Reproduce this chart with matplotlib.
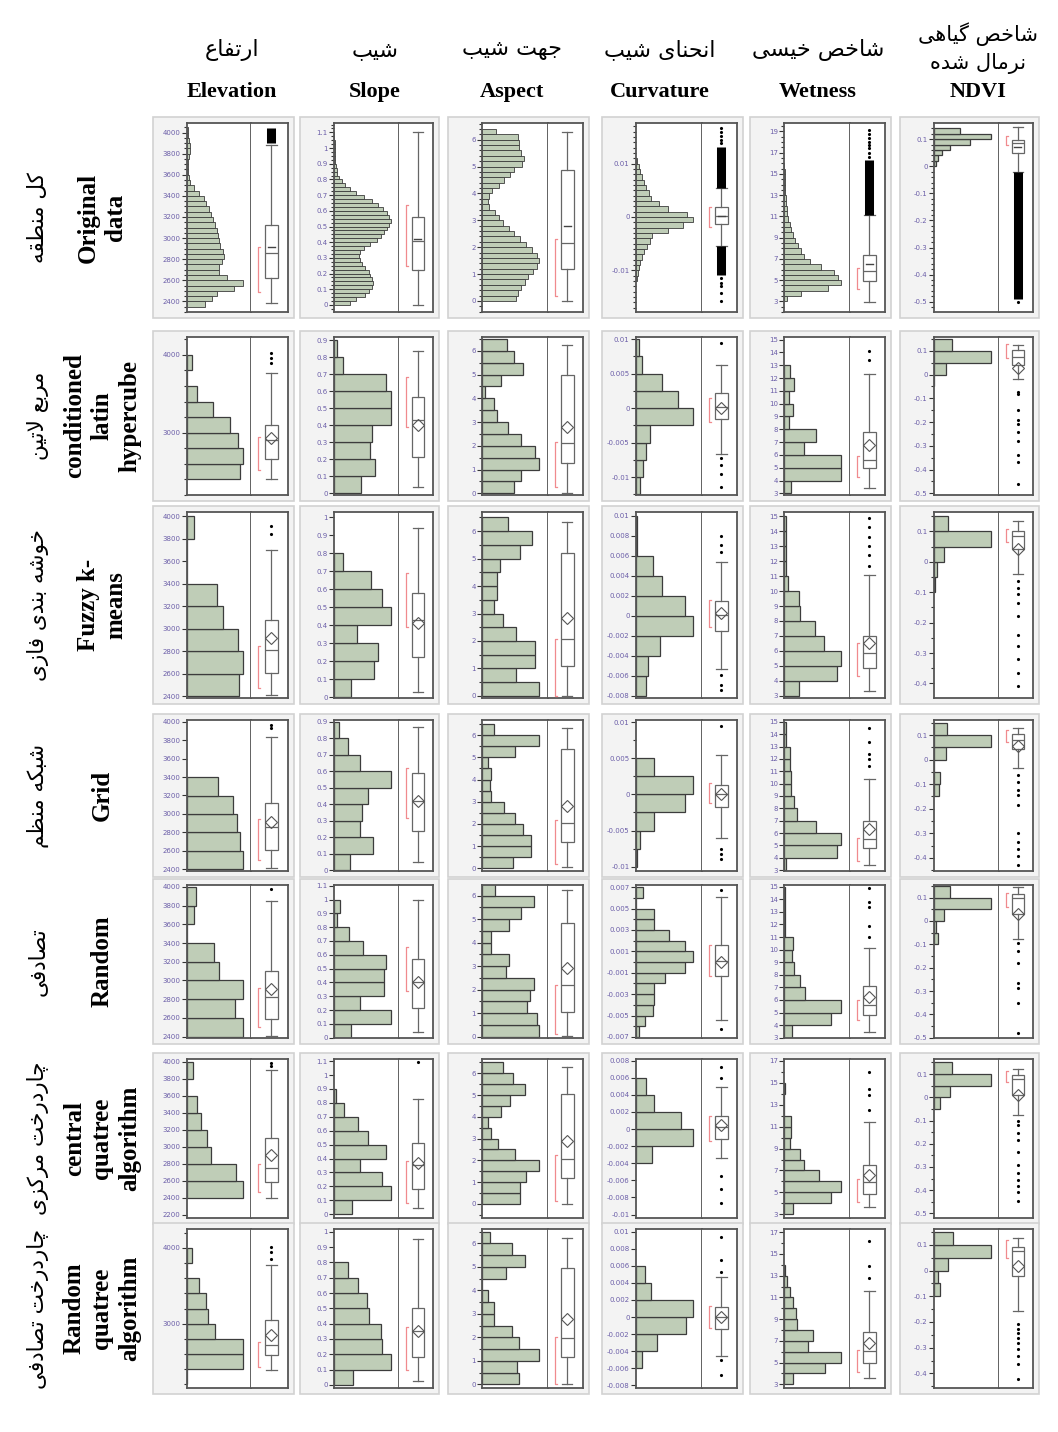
import numpy as np
import matplotlib
matplotlib.use("Agg")
import matplotlib.pyplot as plt
from matplotlib.patches import Rectangle

# Column / row titles
col_fa = ["ارتفاع", "شیب", "جهت شیب", "انحنای شیب", "شاخص خیسی", "شاخص گیاهی\nنرمال شده"]
col_en = ["Elevation", "Slope", "Aspect", "Curvature", "Wetness", "NDVI"]
row_fa = ["کل منطقه", "مربع لاتین", "خوشه بندی فازی", "شبکه منظم", "تصادفی",
          "چاردرخت مرکزی", "چاردرخت تصادفی"]
row_en = ["Original\ndata", "conditioned\nlatin\nhypercube", "Fuzzy k-\nmeans", "Grid",
          "Random", "central\nquatree\nalgorithm", "Random\nquatree\nalgorithm"]

# ---- Elevation ----
elev_lim = [(2300, 4090), (2200, 4230), (2385, 4040), (2380, 4020), (2385, 4020), (2160, 4030), (2150, 4250)]
elev_ticks = [(2400, 4000, 200), (3000, 4000, 1000), (2400, 4000, 200), (2400, 4000, 200),
              (2400, 4000, 200), (2200, 4000, 200), (3000, 4000, 1000)]
elev_bins = [(2350, 50), (2400, 200), (2400, 200), (2400, 200), (2400, 200), (2400, 200), (2200, 200)]
elev_hist = [
    [55, 75, 90, 140, 167, 120, 95, 95, 105, 110, 108, 100, 95, 92, 90, 85, 78, 72, 65, 58,
     50, 35, 22, 10, 5, 3, 2, 3, 5, 8, 8, 5, 3, 2],
    [93, 98, 90, 76, 46, 18, 0, 8],
    [97, 103, 95, 67, 55, 0, 0, 13],
    [96, 91, 86, 80, 53],
    [98, 85, 98, 56, 48, 0, 13, 16],
    [97, 85, 42, 35, 25, 17, 0, 10],
    [0, 96, 96, 48, 37, 33, 21, 0, 8],
]
# whisker low, q1, median, q3, whisker high, mean
elev_box = [(2382, 2620, 2857, 3123, 3880, 2917), (2400, 2662, 2906, 3099, 3772, 2930),
            (2410, 2609, 2815, 3083, 3705, 2920), (2409, 2613, 2856, 3114, 3840, 2910),
            (2410, 2593, 2822, 3106, 3850, 2912), (2390, 2580, 2748, 3100, 3900, 2900),
            (2385, 2582, 2714, 3044, 3770, 2846)]
elev_half = [(2490, 2917), (2520, 2950), (2475, 2850), (2500, 2950), (2505, 2915), (2465, 2800), (2427, 2757)]
elev_out = [[], [3900, 3960, 4025], [3840, 3915], [3930, 3970], [3975], [3950, 3985], [3860, 3947, 4013]]
elev_dense = [[(3900, 4045)], [], [], [], [], [], []]

# ---- Slope ----
slope_lim = [(-0.045, 1.16), (-0.01, 0.92), (-0.005, 1.03), (-0.006, 0.91), (-0.002, 1.105),
             (-0.027, 1.115), (-0.02, 1.018)]
slope_ticks = [(0, 1.1, 0.1), (0, 0.9, 0.1), (0, 1.0, 0.1), (0, 0.9, 0.1), (0, 1.1, 0.1),
               (0, 1.1, 0.1), (0, 1.0, 0.1)]
slope_bins = [(0, 0.025), (0, 0.1), (0, 0.1), (0, 0.1), (0, 0.1), (0, 0.1), (0, 0.1)]
slope_hist = [
    [25, 35, 50, 55, 60, 62, 60, 58, 55, 50, 45, 42, 40, 42, 48, 58, 68, 75, 80, 85, 88, 90,
     88, 85, 78, 70, 60, 48, 35, 25, 18, 12, 8, 5, 4, 3, 2, 2, 1, 1, 1, 1, 0.5, 0.5],
    [47, 70, 62, 65, 97, 97, 90, 15, 5],
    [30, 68, 75, 40, 97, 83, 63, 15],
    [27, 65, 43, 47, 57, 95, 43, 23, 8],
    [30, 97, 45, 85, 85, 90, 50, 25, 5, 10],
    [30, 95, 80, 44, 87, 57, 40, 17, 4],
    [32, 97, 82, 80, 60, 57, 42, 24],
]
slope_box = [(0.0, 0.22, 0.41, 0.56, 1.1, 0.42), (0.039, 0.214, 0.433, 0.566, 0.84, 0.40),
             (0.026, 0.222, 0.428, 0.578, 0.94, 0.41), (0.046, 0.235, 0.42, 0.586, 0.87, 0.42),
             (0.043, 0.212, 0.404, 0.569, 1.0, 0.40), (0.048, 0.183, 0.352, 0.51, 0.83, 0.37),
             (0.026, 0.18, 0.35, 0.5, 0.95, 0.35)]
slope_half = [(0.25, 0.64), (0.39, 0.684), (0.39, 0.69), (0.316, 0.616), (0.34, 0.66), (0.08, 0.38), (0.1, 0.38)]
slope_out = [[], [], [], [], [], [1.09], []]
slope_dense = [[], [], [], [], [], [], []]

# ---- Aspect ----
aspect_lim = [(-0.41, 6.62), (-0.07, 6.58), (-0.08, 6.7), (-0.12, 6.68), (-0.06, 6.45),
              (-0.65, 6.66), (-0.15, 6.61)]
aspect_ticks = [(0, 6, 1)] * 7
aspect_bins = [(0, 0.2)] + [(0, 0.5)] * 6
aspect_hist = [
    [100, 105, 115, 125, 135, 150, 160, 168, 160, 145, 128, 110, 95, 78, 60, 50, 38, 20, 18, 20,
     30, 50, 65, 82, 95, 118, 122, 115, 107, 107, 105, 42],
    [55, 67, 98, 90, 67, 45, 25, 20, 5, 33, 70, 55, 42],
    [98, 58, 91, 91, 58, 35, 21, 25, 25, 31, 65, 85, 45],
    [52, 83, 83, 70, 55, 37, 15, 13, 15, 10, 55, 97, 20],
    [99, 95, 77, 82, 89, 42, 47, 15, 15, 47, 67, 89, 22],
    [65, 65, 75, 97, 55, 27, 15, 10, 32, 47, 72, 53, 35],
    [63, 60, 98, 63, 51, 21, 21, 11, 0, 41, 73, 51, 13],
]
aspect_box = [(0, 1.19, 2.16, 4.88, 6.3, 2.78), (0.03, 1.26, 2.1, 5.0, 6.24, 2.8),
              (0, 1.08, 2.08, 5.19, 6.33, 2.82), (0.07, 1.19, 2.04, 5.36, 6.3, 2.8),
              (0.04, 1.04, 2.21, 4.82, 6.24, 2.9), (0, 1.2, 2.06, 5.05, 6.3, 2.87),
              (0.04, 1.18, 1.97, 4.97, 6.24, 2.8)]
aspect_half = [(0.2, 2.32), (0.28, 2.17), (0, 2.08), (0.2, 2.16), (0.1, 2.2), (0.15, 2.26), (0, 2.0)]
aspect_out = [[], [], [], [], [], [], []]
aspect_dense = [[], [], [], [], [], [], []]

# ---- Curvature ----
curv_lim = [(-0.0178, 0.0176), (-0.0126, 0.0103), (-0.0082, 0.0104), (-0.0106, 0.0103),
            (-0.0071, 0.0072), (-0.0104, 0.0082), (-0.0083, 0.0103)]
curv_ticks = [(-0.01, 0.01, 0.01), (-0.01, 0.01, 0.005), (-0.008, 0.01, 0.002), (-0.01, 0.01, 0.005),
              (-0.007, 0.007, 0.002), (-0.01, 0.008, 0.002), (-0.008, 0.01, 0.002)]
curv_bins = [(-0.012, 0.001), (-0.0125, 0.0025), (-0.008, 0.002), (-0.01, 0.0025),
             (-0.007, 0.001), (-0.004, 0.002), (-0.006, 0.002)]
curv_hist = [
    [2, 5, 8, 12, 17, 24, 32, 40, 47, 92, 137, 167, 147, 92, 67, 44, 37, 30, 22, 17, 12, 9, 4],
    [7, 12, 17, 25, 102, 75, 47, 10, 5],
    [18, 22, 45, 108, 92, 48, 32, 2, 2],
    [2, 7, 30, 80, 94, 30],
    [5, 15, 30, 32, 32, 50, 85, 100, 85, 58, 32, 32, 0, 12],
    [27, 95, 75, 30, 17],
    [10, 35, 82, 94, 24, 14],
]
curv_box = [(-0.0055, -0.0014, 0.0002, 0.0019, 0.0055, 0.0002), (-0.0066, -0.0016, 0.0001, 0.0022, 0.0063, 0.0),
            (-0.0053, -0.0015, 0.0001, 0.0015, 0.0054, 0.0003), (-0.0061, -0.0017, 0.0, 0.0013, 0.0054, 0.0),
            (-0.0054, -0.0013, 0.0001, 0.0016, 0.0061, 0.0), (-0.0034, -0.0011, 0.0002, 0.0015, 0.0049, 0.0005),
            (-0.0045, -0.0014, 0.0, 0.0012, 0.0047, 0.0)]
curv_half = [(-0.0018, 0.0019), (-0.002, 0.0015), (-0.0011, 0.0016), (-0.0012, 0.0016),
             (-0.0013, 0.0016), (-0.0014, 0.0015), (-0.0013, 0.0013)]
curv_out = [[0.0138, 0.0145, 0.0152, 0.016, 0.0167, -0.0115, -0.0123, -0.013, -0.0142, -0.0158],
            [0.0095, -0.0073, -0.0083, -0.0095, -0.0115],
            [0.008, 0.0071, 0.0064, -0.0059, -0.0069, -0.0074],
            [0.0095, -0.0075, -0.0083, -0.009],
            [0.0067, -0.0063],
            [0.0073, 0.006, -0.0055, -0.007, -0.0087],
            [0.0094, 0.0067, 0.0053, -0.005, -0.0068]]
curv_dense = [[(-0.0108, -0.0055), (0.0055, 0.0131)], [], [], [], [], [], []]

# ---- Wetness ----
wet_lim = [(2.0, 19.8), (2.87, 15.2), (2.85, 15.29), (2.92, 15.16), (2.98, 15.13), (2.66, 17.18), (2.66, 17.3)]
wet_ticks = [(3, 19, 2), (3, 15, 1), (3, 15, 1), (3, 15, 1), (3, 15, 1), (3, 17, 2), (3, 17, 2)]
wet_bins = [(3, 0.5)] + [(3, 1)] * 6
wet_hist = [
    [10, 50, 130, 170, 160, 148, 110, 78, 58, 50, 40, 33, 27, 22, 17, 13, 10, 8, 6, 5, 4, 3, 3, 2, 2, 1],
    [13, 100, 100, 35, 55, 8, 15, 8, 18, 10],
    [25, 89, 97, 67, 52, 27, 25, 7, 3, 3, 3, 3],
    [3, 93, 100, 55, 23, 17, 13, 13, 10, 10, 3, 3],
    [13, 77, 95, 35, 27, 17, 13, 15, 2, 2, 2, 2],
    [14, 77, 94, 57, 32, 27, 10, 12, 12, 0, 0, 2],
    [15, 68, 95, 40, 48, 22, 20, 15, 10, 5, 2],
]
wet_box = [(2.9, 4.92, 5.85, 7.38, 11.1, 6.5), (3.4, 4.95, 5.6, 7.75, 12.3, 6.77),
           (3.3, 4.83, 5.85, 7.0, 11.1, 6.55), (3.4, 4.78, 5.5, 7.0, 10.4, 6.3),
           (3.43, 4.81, 5.6, 7.14, 10.1, 6.26), (3.7, 4.86, 5.93, 7.53, 11.4, 6.6),
           (3.55, 5.0, 6.08, 7.85, 11.6, 6.8)]
wet_half = [(4.2, 6.1), (4.3, 5.95), (4.3, 6.53), (3.7, 5.6), (4.4, 6.0), (4.1, 6.2), (4.1, 6.2)]
wet_out = [[16.6, 17.0, 17.4, 17.7, 18.0, 18.4, 18.8, 19.1],
           [13.4, 14.1],
           [11.7, 12.4, 13.0, 13.6, 14.3, 14.9],
           [11.4, 12.0, 12.4, 13.4, 14.5],
           [11.0, 11.9, 13.4, 13.8, 14.9],
           [12.5, 13.9, 14.4, 16.0],
           [12.8, 13.9, 16.2]]
wet_dense = [[(11.1, 16.3)], [], [], [], [], [], []]

# ---- NDVI ----
ndvi_lim = [(-0.538, 0.16), (-0.507, 0.158), (-0.448, 0.164), (-0.453, 0.161), (-0.501, 0.154),
            (-0.52, 0.165), (-0.457, 0.162)]
ndvi_ticks = [(-0.5, 0.1, 0.1), (-0.5, 0.1, 0.1), (-0.4, 0.1, 0.1), (-0.4, 0.1, 0.1),
              (-0.5, 0.1, 0.1), (-0.5, 0.1, 0.1), (-0.4, 0.1, 0.1)]
ndvi_bins = [(0, 0.02), (-0.05, 0.05), (-0.1, 0.05), (-0.15, 0.05), (-0.1, 0.05), (-0.05, 0.05), (-0.1, 0.05)]
ndvi_hist = [
    [6, 13, 23, 48, 106, 168, 78],
    [0, 20, 95, 30],
    [2, 5, 17, 93, 23],
    [8, 10, 0, 20, 95, 22],
    [7, 3, 17, 94, 27],
    [10, 27, 95, 30],
    [10, 7, 24, 97, 32],
]
ndvi_box = [(-0.021, 0.048, 0.085, 0.097, 0.146, 0.07), (-0.018, 0.041, 0.075, 0.103, 0.124, 0.028),
            (-0.04, 0.042, 0.086, 0.1, 0.135, 0.042), (-0.036, 0.044, 0.078, 0.106, 0.127, 0.054),
            (-0.076, 0.031, 0.097, 0.114, 0.145, 0.03), (-0.078, 0.01, 0.078, 0.094, 0.123, 0.01),
            (-0.158, -0.022, 0.078, 0.093, 0.127, 0.017)]
ndvi_half = [(0.079, 0.112), (0.068, 0.13), (0.064, 0.108), (0.071, 0.12), (0.061, 0.118), (0.064, 0.114), (0.049, 0.12)]
ndvi_out = [[-0.5],
            [-0.072, -0.08, -0.15, -0.19, -0.21, -0.24, -0.28, -0.34, -0.37, -0.46],
            [-0.063, -0.085, -0.107, -0.135, -0.178, -0.24, -0.278, -0.32, -0.365, -0.407],
            [-0.063, -0.09, -0.123, -0.143, -0.183, -0.297, -0.337, -0.364, -0.39, -0.43],
            [-0.093, -0.129, -0.179, -0.265, -0.287, -0.35, -0.48],
            [-0.1, -0.12, -0.152, -0.185, -0.235, -0.29, -0.326, -0.355, -0.383, -0.41, -0.447],
            [-0.209, -0.226, -0.241, -0.261, -0.283, -0.306, -0.332, -0.365, -0.421]]
ndvi_dense = [[(-0.49, -0.021)], [], [], [], [], [], []]

# panel layout in pixels
W, H = 1058, 1432
col_axis = [187, 334, 482, 636, 784, 934]
col_div = [251, 399, 548, 702, 850, 999]
col_right = [288, 433, 583, 737, 885, 1033]
row_top = [123, 337, 512, 720, 885, 1059, 1229]
row_bot = [312, 495, 698, 871, 1038, 1218, 1388]
head_x = [232, 375, 512, 660, 818, 978]

# Arabic presentation forms (isolated, final[, initial, medial])
FORMS = {
    "ا": (0xFE8D, 0xFE8E), "د": (0xFEA9, 0xFEAA), "ر": (0xFEAD, 0xFEAE),
    "ز": (0xFEAF, 0xFEB0), "و": (0xFEED, 0xFEEE),
    "ب": (0xFE8F, 0xFE90, 0xFE91, 0xFE92), "ت": (0xFE95, 0xFE96, 0xFE97, 0xFE98),
    "ج": (0xFE9D, 0xFE9E, 0xFE9F, 0xFEA0), "چ": (0xFB7A, 0xFB7B, 0xFB7C, 0xFB7D),
    "ح": (0xFEA1, 0xFEA2, 0xFEA3, 0xFEA4), "خ": (0xFEA5, 0xFEA6, 0xFEA7, 0xFEA8),
    "س": (0xFEB1, 0xFEB2, 0xFEB3, 0xFEB4), "ش": (0xFEB5, 0xFEB6, 0xFEB7, 0xFEB8),
    "ص": (0xFEB9, 0xFEBA, 0xFEBB, 0xFEBC), "ط": (0xFEC1, 0xFEC2, 0xFEC3, 0xFEC4),
    "ظ": (0xFEC5, 0xFEC6, 0xFEC7, 0xFEC8), "ع": (0xFEC9, 0xFECA, 0xFECB, 0xFECC),
    "ف": (0xFED1, 0xFED2, 0xFED3, 0xFED4), "ق": (0xFED5, 0xFED6, 0xFED7, 0xFED8),
    "ک": (0xFB8E, 0xFB8F, 0xFB90, 0xFB91), "گ": (0xFB92, 0xFB93, 0xFB94, 0xFB95),
    "ل": (0xFEDD, 0xFEDE, 0xFEDF, 0xFEE0), "م": (0xFEE1, 0xFEE2, 0xFEE3, 0xFEE4),
    "ن": (0xFEE5, 0xFEE6, 0xFEE7, 0xFEE8), "ه": (0xFEE9, 0xFEEA, 0xFEEB, 0xFEEC),
    "ی": (0xFBFC, 0xFBFD, 0xFBFE, 0xFBFF),
}


def shape_fa(text):
    # matplotlib does no Arabic shaping or bidi, so join letters by hand
    # and reverse each line into visual order
    lines = []
    for line in text.split("\n"):
        res = []
        i, n = 0, len(line)
        while i < n:
            ch = line[i]
            if ch not in FORMS:
                res.append(ch)
                i += 1
                continue
            prev = line[i - 1] if i > 0 else " "
            link_prev = len(FORMS.get(prev, ())) == 4
            if ch == "ل" and i + 1 < n and line[i + 1] == "ا":
                res.append(chr(0xFEFC if link_prev else 0xFEFB))
                i += 2
                continue
            nxt = line[i + 1] if i + 1 < n else " "
            link_next = len(FORMS[ch]) == 4 and nxt in FORMS
            f = FORMS[ch]
            if link_prev and link_next:
                g = f[3]
            elif link_prev:
                g = f[1]
            elif link_next:
                g = f[2]
            else:
                g = f[0]
            res.append(chr(g))
            i += 1
        lines.append("".join(reversed(res)))
    return "\n".join(lines)


EN_FONT = ["Liberation Serif", "DejaVu Serif"]
FA_FONT = ["DejaVu Sans"]
EDGE = "#555555"

fig = plt.figure(figsize=(W / 100, H / 100), dpi=100)
fig.patch.set_facecolor("white")


def fx(x):
    return x / W


def fy(y):
    return 1 - y / H


def draw_panel(r, c, lim, ticks, bins, counts, box, half, out, dense):
    x0, xd, x1 = col_axis[c], col_div[c], col_right[c]
    y0, y1 = row_top[r], row_bot[r]

    # light grey frame holding the plot and its labels
    frame = Rectangle((fx(x0 - 34), fy(y1 + 6)), (x1 - x0 + 40) / W, (y1 - y0 + 12) / H,
                      transform=fig.transFigure, facecolor="#f3f3f3", edgecolor="#d2d2d2",
                      lw=1.2, zorder=-1)
    fig.patches.append(frame)

    ax_h = fig.add_axes([fx(x0), fy(y1), (xd - x0) / W, (y1 - y0) / H])
    ax_b = fig.add_axes([fx(xd), fy(y1), (x1 - xd) / W, (y1 - y0) / H], sharey=ax_h)

    # histogram
    start, width = bins
    edges = start + width * np.arange(len(counts))
    thin = len(counts) > 20
    ax_h.barh(edges, counts, height=width, align="edge", color="#bfcdb7",
              edgecolor="#3c3c3c", lw=0.6 if thin else 0.9)
    ax_h.set_xlim(0, max(counts) / 0.87)
    ax_h.set_ylim(*lim)

    major = np.round(np.arange(ticks[0], ticks[1] + ticks[2] / 2, ticks[2]), 6)
    ax_h.set_yticks(major)
    ax_h.set_yticklabels(["{:g}".format(0.0 if abs(v) < 1e-12 else v) for v in major])
    first = start - np.floor((start - lim[0]) / width) * width
    ax_h.set_yticks(np.arange(first, lim[1], width), minor=True)
    ax_h.tick_params(axis="y", which="major", length=3.5, width=0.8, color="#333333",
                     labelsize=5, labelcolor="#6b5ea8", pad=1)
    ax_h.tick_params(axis="y", which="minor", length=2, width=0.8, color="#333333")
    ax_h.tick_params(axis="x", bottom=False, labelbottom=False)
    for s in ax_h.spines.values():
        s.set_color(EDGE)
        s.set_linewidth(1.3)

    # box plot side
    ax_b.set_xlim(0, 1)
    stats = dict(whislo=box[0], q1=box[1], med=box[2], q3=box[3], whishi=box[4],
                 mean=box[5], fliers=out)
    line = dict(color="#666666", lw=0.9)
    ax_b.bxp([stats], positions=[0.55], widths=0.36, capwidths=0.3, patch_artist=True,
             boxprops=dict(facecolor="white", edgecolor="#666666", lw=0.9),
             whiskerprops=line, capprops=line, medianprops=line,
             flierprops=dict(marker=".", ms=2.5, mfc="k", mec="k"),
             showfliers=True, manage_ticks=False)
    for lo, hi in dense:
        ax_b.vlines(0.55, lo, hi, color="k", lw=6.5, zorder=3)
    if r == 0:
        ax_b.plot([0.45, 0.65], [box[5], box[5]], color="#444444", lw=1.0, zorder=4)
    else:
        ax_b.plot(0.55, box[5], marker="D", ms=6, mfc="none", mec="#555555", mew=0.8, zorder=4)
    # shortest half bracket
    ax_b.plot([0.25, 0.2, 0.2, 0.25], [half[0], half[0], half[1], half[1]],
              color="#f08a8e", lw=0.9, zorder=4)
    ax_b.tick_params(left=False, labelleft=False, bottom=False, labelbottom=False, which="both")
    ax_b.spines["left"].set_visible(False)
    for k in ("top", "bottom", "right"):
        ax_b.spines[k].set_color(EDGE)
        ax_b.spines[k].set_linewidth(1.3)


columns = [
    (elev_lim, elev_ticks, elev_bins, elev_hist, elev_box, elev_half, elev_out, elev_dense),
    (slope_lim, slope_ticks, slope_bins, slope_hist, slope_box, slope_half, slope_out, slope_dense),
    (aspect_lim, aspect_ticks, aspect_bins, aspect_hist, aspect_box, aspect_half, aspect_out, aspect_dense),
    (curv_lim, curv_ticks, curv_bins, curv_hist, curv_box, curv_half, curv_out, curv_dense),
    (wet_lim, wet_ticks, wet_bins, wet_hist, wet_box, wet_half, wet_out, wet_dense),
    (ndvi_lim, ndvi_ticks, ndvi_bins, ndvi_hist, ndvi_box, ndvi_half, ndvi_out, ndvi_dense),
]

for c, col in enumerate(columns):
    for r in range(7):
        draw_panel(r, c, *[item[r] for item in col])

# column headers
for c in range(6):
    two = "\n" in col_fa[c]
    fig.text(fx(head_x[c]), fy(48 if two else 50), shape_fa(col_fa[c]), family=FA_FONT,
             fontsize=15 if two else 16, ha="center", va="center", linespacing=1.4)
    fig.text(fx(head_x[c]), fy(92), col_en[c], family=EN_FONT, fontweight="bold",
             fontsize=16, ha="center", va="center")

# row labels
for r in range(7):
    yc = (row_top[r] + row_bot[r]) / 2
    fig.text(fx(38), fy(yc), shape_fa(row_fa[r]), family=FA_FONT, fontsize=15.5,
             rotation=90, ha="center", va="center")
    fig.text(fx(102), fy(yc), row_en[r], family=EN_FONT, fontweight="bold", fontsize=18,
             rotation=90, ha="center", va="center", multialignment="center", linespacing=1.25)

fig.savefig("out.png", dpi=100)
